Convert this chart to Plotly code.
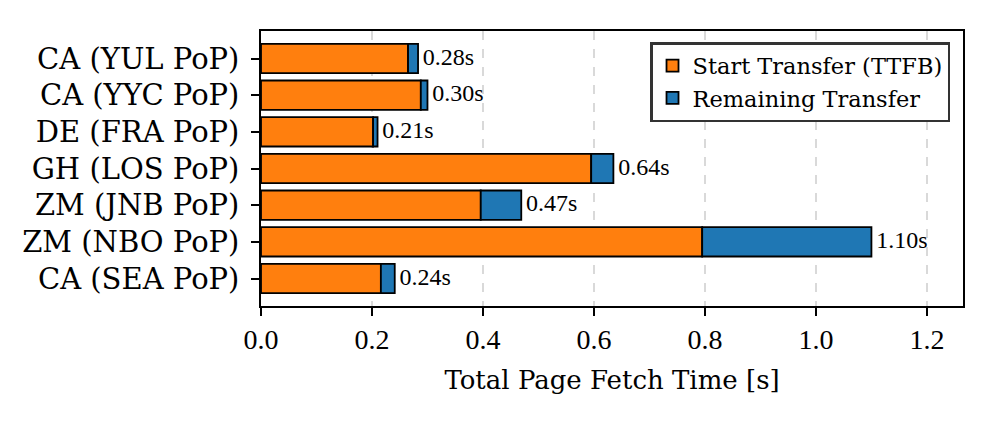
import plotly.graph_objects as go

categories = ["CA (YUL PoP)", "CA (YYC PoP)", "DE (FRA PoP)", "GH (LOS PoP)",
              "ZM (JNB PoP)", "ZM (NBO PoP)", "CA (SEA PoP)"]
ttfb = [0.265, 0.288, 0.202, 0.595, 0.396, 0.795, 0.216]
total = [0.283, 0.300, 0.210, 0.635, 0.469, 1.100, 0.241]
remaining = [t - s for t, s in zip(total, ttfb)]
labels = [f"{t:.2f}s" for t in total]
xticks = [0.0, 0.2, 0.4, 0.6, 0.8, 1.0, 1.2]

SERIF = "DejaVu Serif"
NUM = "Liberation Serif"

fig = go.Figure()
fig.add_trace(go.Bar(
    y=categories, x=ttfb, orientation="h", name="Start Transfer (TTFB)",
    marker=dict(color="#ff7f0e", line=dict(color="black", width=1.8)), width=0.8))
fig.add_trace(go.Bar(
    y=categories, x=remaining, base=ttfb, orientation="h", name="Remaining Transfer",
    marker=dict(color="#1f77b4", line=dict(color="black", width=1.8)), width=0.8))
fig.add_trace(go.Scatter(
    y=categories, x=total, mode="markers+text", text=labels, textposition="middle right",
    marker=dict(size=6, color="rgba(0,0,0,0)"),
    textfont=dict(family=NUM, size=24, color="black"), showlegend=False,
    hoverinfo="skip"))

fig.update_layout(
    width=987, height=419,
    margin=dict(l=253, r=32, t=23, b=121),
    barmode="overlay",
    plot_bgcolor="white", paper_bgcolor="white",
    font=dict(family=SERIF, size=24, color="black"),
    legend=dict(x=0.9815, y=0.96, xanchor="right", yanchor="top",
                bordercolor="#333333", borderwidth=2.5, bgcolor="white",
                font=dict(family="DejaVu Serif", size=22.5, color="black"),
                tracegroupgap=0, itemwidth=30),
    xaxis=dict(range=[0, 1.265], tickvals=xticks,
               ticktext=[f"{v:.1f}" for v in xticks],
               tickfont=dict(family=NUM, size=28),
               showgrid=True, gridcolor="#d9d9d9", griddash="dash", gridwidth=1.5,
               showline=True, linecolor="black", linewidth=1.5, mirror=True,
               ticks="outside", ticklen=8, tickwidth=1.5, tickcolor="black",
               zeroline=False,
               title=dict(text="Total Page Fetch Time [s]",
                          font=dict(family=SERIF, size=26), standoff=16)),
    yaxis=dict(categoryorder="array", categoryarray=categories, autorange=False,
               range=[6.75, -0.75], tickfont=dict(family=SERIF, size=29),
               ticklabelstandoff=6,
               showline=True, linecolor="black", linewidth=1.5, mirror=True,
               ticks="outside", ticklen=8, tickwidth=1.5, tickcolor="black",
               showgrid=False, zeroline=False),
)
fig.write_html("out.html")
